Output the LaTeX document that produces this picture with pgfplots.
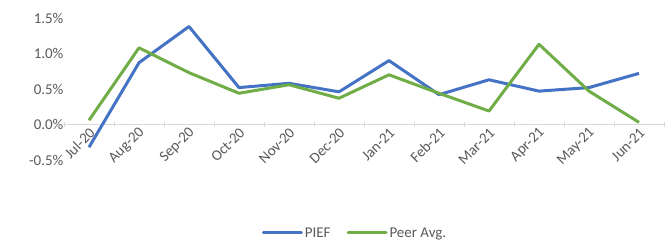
\documentclass[border=0pt]{standalone}
\usepackage{fontspec}
\setmainfont{Carlito}
\usepackage{pgfplots}
\pgfplotsset{compat=1.18}
\definecolor{piefblue}{HTML}{4472C4}
\definecolor{peergreen}{HTML}{70AD47}
\definecolor{txtgray}{HTML}{595959}
\definecolor{axgray}{HTML}{D9D9D9}
\begin{document}
\begin{tikzpicture}
\useasboundingbox (0,0) rectangle (665bp,240bp);
\begin{axis}[
  at={(64bp,80bp)}, anchor=south west,
  scale only axis, width=600bp, height=142bp,
  xmin=-0.5, xmax=11.5, ymin=-0.5, ymax=1.5,
  axis x line=middle, axis y line=left,
  x axis line style={-, draw=axgray, line width=1bp},
  y axis line style={draw=none},
  xtick={0,...,11},
  xticklabels={Jul-20,Aug-20,Sep-20,Oct-20,Nov-20,Dec-20,Jan-21,Feb-21,Mar-21,Apr-21,May-21,Jun-21},
  major x tick style={draw=none},
  minor xtick={-0.5,0.5,...,11.5},
  minor x tick style={draw=axgray, line width=1bp},
  minor tick length=5bp,
  x tick label style={rotate=45, anchor=east, font=\fontsize{15}{15}\selectfont, text=txtgray, xshift=3bp, yshift=-5bp},
  ytick={-0.5,0,0.5,1,1.5},
  yticklabels={-0.5\%,0.0\%,0.5\%,1.0\%,1.5\%},
  major y tick style={draw=none},
  y tick label style={font=\fontsize{15}{15}\selectfont, text=txtgray, xshift=5bp},
  clip=false,
  legend style={at={(axis description cs:0.485,-0.514)}, anchor=center, draw=none, fill=none,
    legend columns=2, font=\fontsize{15}{15}\selectfont, text=txtgray,
    /tikz/every even column/.append style={column sep=14bp},
    inner sep=0pt},
  legend image code/.code={\draw[#1, line width=3bp, line cap=round] (0,0) -- (38bp,0);},
]
\addplot[piefblue, line width=3bp, line join=round] coordinates {
(0,-0.32) (1,0.87) (2,1.38) (3,0.52) (4,0.58) (5,0.46) (6,0.90) (7,0.42) (8,0.63) (9,0.47) (10,0.52) (11,0.72)};
\addlegendentry{PIEF}
\addplot[peergreen, line width=3bp, line join=round] coordinates {
(0,0.06) (1,1.08) (2,0.73) (3,0.44) (4,0.56) (5,0.37) (6,0.70) (7,0.44) (8,0.19) (9,1.13) (10,0.47) (11,0.03)};
\addlegendentry{Peer Avg.}
\end{axis}
\end{tikzpicture}
\end{document}
